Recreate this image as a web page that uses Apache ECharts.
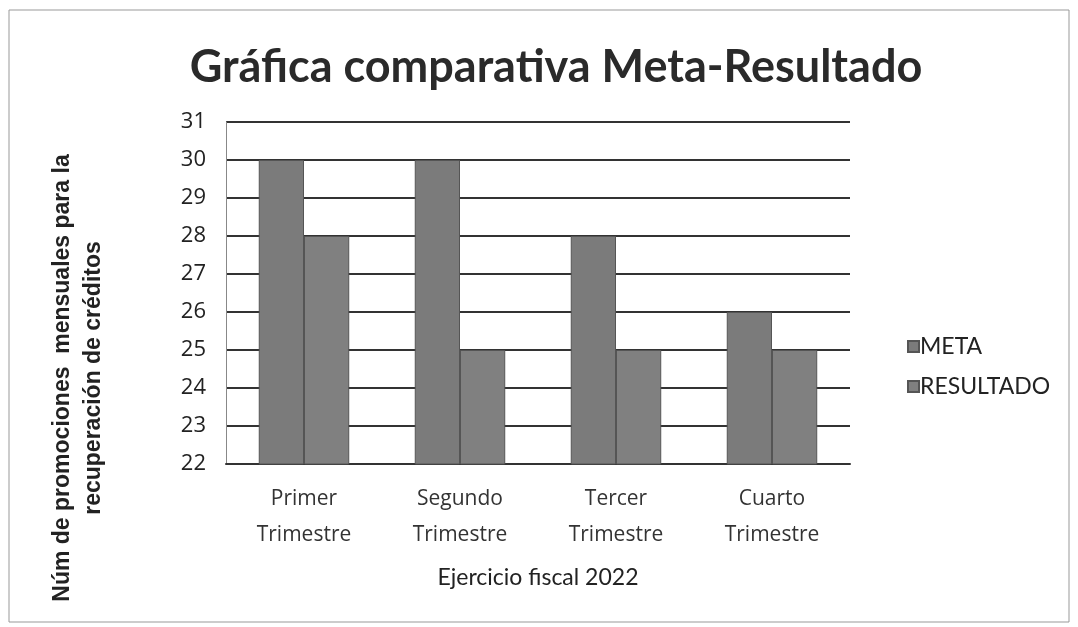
<!DOCTYPE html>
<html>
<head>
<meta charset="utf-8">
<script src="https://cdn.jsdelivr.net/npm/echarts@6/dist/echarts.min.js"></script>
<style>
  html, body { margin: 0; padding: 0; background: #fff; }
  #chart { width: 1078px; height: 627px; }
</style>
</head>
<body>
<div id="chart"></div>
<script>
  const categories = ['Primer\nTrimestre', 'Segundo\nTrimestre', 'Tercer\nTrimestre', 'Cuarto\nTrimestre'];
  const metaValues = [30, 30, 28, 26];
  const resultadoValues = [28, 25, 25, 25];
  const yTitle = 'Núm de promociones  mensuales para la\nrecuperación de créditos';

  const chart = echarts.init(document.getElementById('chart'));

  const option = {
    backgroundColor: '#fff',
    title: {
      text: 'Gráfica comparativa Meta-Resultado',
      left: 551,
      top: 40,
      textAlign: 'center',
      textStyle: { fontFamily: 'Lato', fontSize: 45, fontWeight: 'bold', color: '#2a2a2a' }
    },
    legend: {
      orient: 'vertical',
      left: 902,
      top: 330,
      itemGap: 17,
      itemWidth: 11,
      itemHeight: 11,
      icon: 'rect',
      textStyle: { fontFamily: 'Lato', fontSize: 23, color: '#222', padding: [0, 0, 0, -4] },
      data: ['META', 'RESULTADO']
    },
    grid: { left: 226, right: 228, top: 122, bottom: 163 },
    xAxis: {
      type: 'category',
      data: categories,
      name: 'Ejercicio fiscal 2022',
      nameLocation: 'middle',
      nameGap: 102,
      nameTextStyle: { fontFamily: 'Lato', fontSize: 23, color: '#222' },
      axisLine: { show: true, lineStyle: { color: '#333', width: 2 } },
      axisTick: { show: false },
      axisLabel: { fontFamily: 'Open Sans', fontSize: 21, color: '#333', lineHeight: 36, margin: 17 }
    },
    yAxis: {
      type: 'value',
      min: 22,
      max: 31,
      interval: 1,
      axisLine: { show: true, lineStyle: { color: '#888', width: 1 } },
      axisTick: { show: false },
      axisLabel: { fontFamily: 'Open Sans', fontSize: 22, color: '#222', margin: 20 },
      splitLine: { lineStyle: { color: '#333', width: 2 } }
    },
    series: [
      {
        name: 'META',
        type: 'bar',
        data: metaValues,
        barGap: '0%',
        barCategoryGap: '42%',
        itemStyle: { color: '#7b7b7b', borderColor: '#555', borderWidth: 1 }
      },
      {
        name: 'RESULTADO',
        type: 'bar',
        data: resultadoValues,
        itemStyle: { color: '#808080', borderColor: '#555', borderWidth: 1 }
      }
    ],
    graphic: [
      {
        type: 'rect',
        shape: { x: 9, y: 10, width: 1060, height: 612 },
        style: { fill: 'none', stroke: '#999', lineWidth: 1 },
        silent: true
      },
      {
        // titulo del eje Y, desplazado hacia abajo como en el original
        type: 'text',
        x: 78,
        y: 378,
        rotation: Math.PI / 2,
        style: {
          text: yTitle,
          font: 'bold 23px "Liberation Sans"',
          fill: '#222',
          align: 'center',
          verticalAlign: 'middle',
          lineHeight: 31
        },
        silent: true
      }
    ]
  };

  chart.setOption(option);
</script>
</body>
</html>
